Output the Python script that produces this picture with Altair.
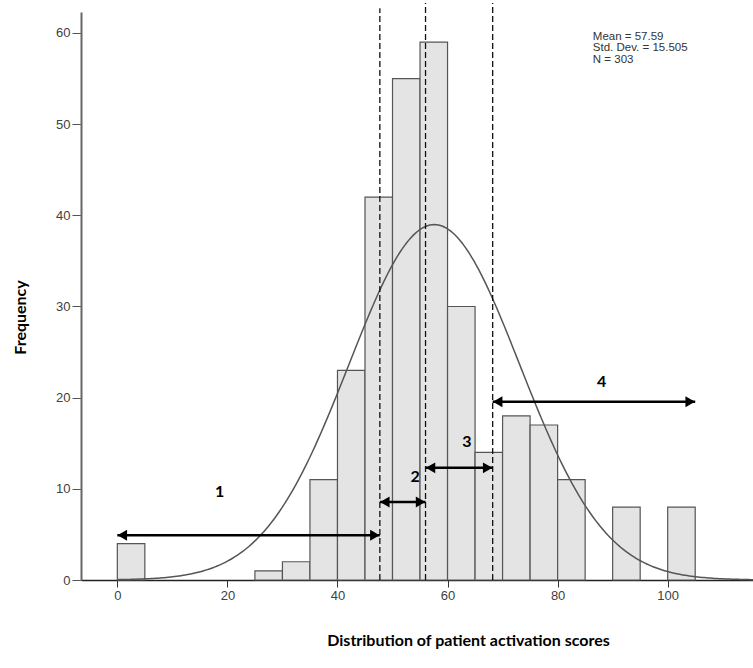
import altair as alt
import pandas as pd
import numpy as np

# Histogram data (bin start, bin width 5)
bin_start = [0, 25, 30, 35, 40, 45, 50, 55, 60, 65, 70, 75, 80, 90, 100]
freq = [4, 1, 2, 11, 23, 42, 55, 59, 30, 14, 18, 17, 11, 8, 8]
bin_width = 5

# Fitted normal curve parameters (as stated in the chart)
mean_val = 57.59
sd_val = 15.505
n_val = 303

# Level cut-offs (dashed lines)
cutoffs = [47.7, 56.0, 68.2]

# Arrows for activation levels
arrow_from = [0, 47.7, 56.0, 68.2]
arrow_to = [47.7, 56.0, 68.2, 105]
arrow_y = [4.9, 8.55, 12.3, 19.55]
level_labels = ["1", "2", "3", "4"]
label_x = [18.6, 54.1, 63.5, 88.0]
label_y = [9.6, 11.3, 15.1, 21.7]

stats_text = "Mean = 57.59\nStd. Dev. = 15.505\nN = 303"
stats_x = [86.4]
stats_y = [59.6]

x_ticks = [0, 20, 40, 60, 80, 100]
y_ticks = [0, 10, 20, 30, 40, 50, 60]

bars = pd.DataFrame({
    "start": bin_start,
    "end": [b + bin_width for b in bin_start],
    "freq": freq,
})

xs = np.linspace(0, 115.5, 300)
curve = pd.DataFrame({
    "x": xs,
    "y": n_val * bin_width / (sd_val * np.sqrt(2 * np.pi))
    * np.exp(-0.5 * ((xs - mean_val) / sd_val) ** 2),
})

cuts = pd.DataFrame({"x": cutoffs, "y0": [0, 0, 0], "y1": [62.7, 63.3, 63.3]})
arrows = pd.DataFrame({"x1": arrow_from, "x2": arrow_to, "y": arrow_y})
labels = pd.DataFrame({"x": label_x, "y": label_y, "t": level_labels})
stats = pd.DataFrame({"x": stats_x, "y": stats_y, "t": [stats_text]})

xscale = alt.Scale(domain=[-6.6, 115.5], nice=False, zero=False)
yscale = alt.Scale(domain=[0, 62.3], nice=False)

xaxis = alt.Axis(
    values=x_ticks, title="Distribution of patient activation scores",
    titleFont="Lato", titleFontSize=16, titleFontWeight="bold", titleColor="#000",
    titleX=387, titleY=60, titleBaseline="middle", titleAlign="center",
    labelFont="Liberation Sans", labelFontSize=13, labelColor="#404040",
    labelPadding=2, tickSize=7, tickColor="#333", domainColor="#222",
    domainWidth=1.5, grid=False, labelFlush=False, labelOverlap=False,
)
yaxis = alt.Axis(
    values=y_ticks, title="Frequency",
    titleFont="Lato", titleFontSize=16, titleFontWeight="bold", titleColor="#000",
    titleX=-61, titleY=305, titleBaseline="middle", titleAlign="center",
    labelFont="Liberation Sans", labelFontSize=13, labelColor="#404040",
    labelPadding=2, tickSize=9, tickColor="#555", domainColor="#666",
    domainWidth=2, grid=False, labelFlush=False, labelOverlap=False,
)

bar_layer = alt.Chart(bars).mark_rect(
    fill="#e4e4e4", stroke="#555555", strokeWidth=1.2
).encode(
    x=alt.X("start:Q", scale=xscale, axis=xaxis),
    x2="end:Q",
    y=alt.Y("freq:Q", scale=yscale, axis=yaxis),
    y2=alt.datum(0),
)

curve_layer = alt.Chart(curve).mark_line(
    color="#555555", strokeWidth=1.5
).encode(x=alt.X("x:Q", scale=xscale), y=alt.Y("y:Q", scale=yscale))

cut_layer = alt.Chart(cuts).mark_rule(
    color="#111", strokeWidth=1.3, strokeDash=[6, 3]
).encode(x=alt.X("x:Q", scale=xscale), y=alt.Y("y0:Q", scale=yscale), y2="y1:Q")

arrow_layer = alt.Chart(arrows).mark_rule(
    color="#000", strokeWidth=2.5
).encode(x=alt.X("x1:Q", scale=xscale), x2="x2:Q", y=alt.Y("y:Q", scale=yscale))

left_heads = alt.Chart(arrows).mark_point(
    shape="triangle-left", filled=True, color="#000", size=120, xOffset=5, opacity=1
).encode(x=alt.X("x1:Q", scale=xscale), y=alt.Y("y:Q", scale=yscale))

right_heads = alt.Chart(arrows).mark_point(
    shape="triangle-right", filled=True, color="#000", size=120, xOffset=-5, opacity=1
).encode(x=alt.X("x2:Q", scale=xscale), y=alt.Y("y:Q", scale=yscale))

label_layer = alt.Chart(labels).mark_text(
    font="Lato", fontSize=16, fontWeight="bold", color="#000"
).encode(x=alt.X("x:Q", scale=xscale), y=alt.Y("y:Q", scale=yscale), text="t:N")

stats_layer = alt.Chart(stats).mark_text(
    font="Liberation Sans", fontSize=11.5, color="#333", align="left",
    baseline="middle", lineBreak="\n", lineHeight=11.5
).encode(x=alt.X("x:Q", scale=xscale), y=alt.Y("y:Q", scale=yscale), text="t:N")

chart = alt.layer(
    bar_layer, curve_layer, cut_layer, arrow_layer, left_heads, right_heads,
    label_layer, stats_layer
).properties(
    width=672, height=568,
    padding={"left": 81, "top": 12, "right": 0, "bottom": 88},
    autosize=alt.AutoSizeParams(type="none"),
    background="white",
).configure_view(stroke=None)

chart.save("out.html", embed_options={"renderer": "svg", "actions": False})
